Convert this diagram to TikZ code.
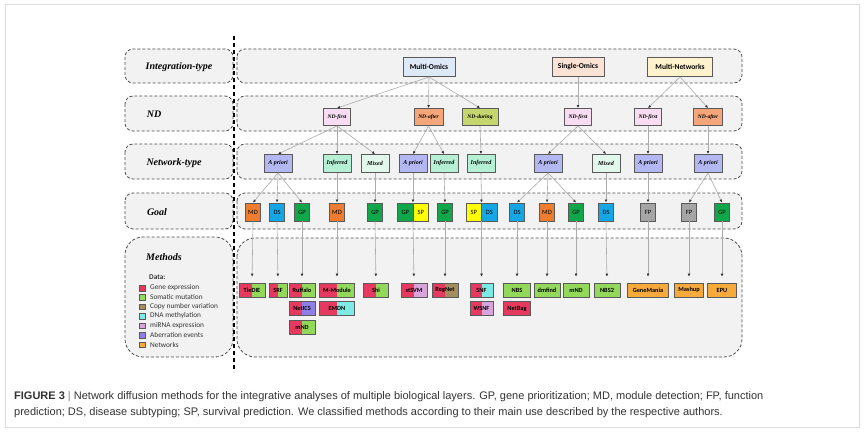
\documentclass[tikz,border=0pt]{standalone}
\usepackage{fontspec}
\setmainfont{Liberation Serif}
\setsansfont{Carlito}
\newfontfamily\capfont{Liberation Sans}
\usetikzlibrary{arrows.meta}

\definecolor{rowfill}{HTML}{F2F2F2}
\definecolor{rowline}{HTML}{4D4D4D}
\definecolor{boxline}{HTML}{5A5A5A}
\definecolor{linkgray}{HTML}{ABABAB}
\definecolor{tipgray}{HTML}{333333}
\definecolor{framegray}{HTML}{DCDCDC}
\definecolor{captext}{HTML}{333333}
\definecolor{omicsblue}{HTML}{DDE9F6}
\definecolor{singlepeach}{HTML}{FBE2D5}
\definecolor{netyellow}{HTML}{FFF2CC}
\definecolor{ndfirst}{HTML}{F8DDF2}
\definecolor{ndafter}{HTML}{F4A67A}
\definecolor{ndduring}{HTML}{C5D66E}
\definecolor{apriori}{HTML}{B3B8F2}
\definecolor{inferred}{HTML}{B5F0D5}
\definecolor{mixed}{HTML}{E2F8EC}
\definecolor{mdorange}{HTML}{EE7D31}
\definecolor{dsblue}{HTML}{15A6E6}
\definecolor{gpgreen}{HTML}{10A64A}
\definecolor{spyellow}{HTML}{FFFF00}
\definecolor{fpgray}{HTML}{A5A5A5}
\definecolor{geneexpr}{HTML}{E6395F}
\definecolor{somatic}{HTML}{92D85A}
\definecolor{cnv}{HTML}{A38C5E}
\definecolor{methyl}{HTML}{7DEAE5}
\definecolor{mirna}{HTML}{D9A3DC}
\definecolor{aberr}{HTML}{8E80E6}
\definecolor{networks}{HTML}{F6AA3C}

\tikzset{
  rowbox/.style={draw=rowline, fill=rowfill, dash pattern=on 3pt off 2pt, line width=0.8pt, rounded corners=8pt},
  rowlabel/.style={font=\fontsize{10}{11}\selectfont\bfseries\itshape},
  intbox/.style={draw=boxline, line width=0.9pt, fill=#1, minimum width=52pt, minimum height=19pt, inner sep=1pt, font=\sffamily\bfseries\fontsize{7.5}{8}\selectfont},
  ndbox/.style={draw=boxline, line width=0.9pt, fill=#1, minimum width=27pt, minimum height=17pt, inner sep=1pt, font=\fontsize{5.5}{6}\selectfont\bfseries\itshape},
  nettype/.style={draw=boxline, line width=0.9pt, fill=#1, minimum width=28pt, minimum height=18pt, inner sep=1pt, font=\fontsize{6}{7}\selectfont\bfseries\itshape},
  goalbox/.style={draw=boxline, line width=0.9pt, fill=#1, minimum width=15pt, minimum height=18pt, inner sep=0pt, font=\sffamily\fontsize{6.5}{7}\selectfont},
  goalpair/.style 2 args={draw=boxline, line width=0.9pt, minimum width=31pt, minimum height=18pt, inner sep=0pt, font=\sffamily\fontsize{6.5}{7}\selectfont,
    path picture={\fill[#1] (path picture bounding box.south west) rectangle (path picture bounding box.north);
      \fill[#2] (path picture bounding box.south) rectangle (path picture bounding box.north east);
      \draw[boxline, line width=0.9pt] (path picture bounding box.south) -- (path picture bounding box.north);}},
  method/.style 2 args={draw=boxline, line width=0.7pt, minimum height=14pt, inner sep=1pt, font=\sffamily\bfseries\fontsize{6.3}{7}\selectfont,
    path picture={\fill[#1] (path picture bounding box.south west) rectangle (path picture bounding box.north);
      \fill[#2] (path picture bounding box.south) rectangle (path picture bounding box.north east);}},
  link/.style={draw=linkgray, line width=0.6pt, -{Latex[length=3pt,width=2.8pt,color=tipgray]}},
  longlink/.style={link, shorten >=6pt},
  legsq/.style={draw=boxline, line width=0.5pt, fill=#1, minimum size=5.5pt, inner sep=0pt},
  legtext/.style={anchor=west, inner sep=0pt, text=captext, font=\sffamily\fontsize{7.3}{8}\selectfont},
  capline/.style={anchor=west, inner sep=0pt, text=captext, font=\capfont\fontsize{11}{12}\selectfont}
}

\begin{document}
\begin{tikzpicture}[x=1pt, y=-1pt]
\useasboundingbox (0,0) rectangle (866,433);
\draw[framegray, line width=0.8pt] (5,4) rectangle (859,427);

%rows: label box on the left, content box on the right
\draw[rowbox] (125,49) rectangle (233,83);
\draw[rowbox] (237,49) rectangle (742,83);
\draw[rowbox] (125,96) rectangle (233,131);
\draw[rowbox] (237,96) rectangle (742,131);
\draw[rowbox] (125,144) rectangle (233,179);
\draw[rowbox] (237,144) rectangle (742,179);
\draw[rowbox] (125,193) rectangle (233,229);
\draw[rowbox] (237,193) rectangle (742,229);
\draw[rowbox, rounded corners=18pt] (125,237) rectangle (233,357);
\draw[rowbox, rounded corners=18pt] (237,238) rectangle (742,357);

\draw[black, line width=1.6pt, dash pattern=on 4pt off 3pt] (234,36) -- (234,372);

\node[rowlabel] (lint) at (179,67) {Integration-type};
\node[rowlabel] (lnd) at (154,114) {ND};
\node[rowlabel] (lnet) at (174,163) {Network-type};
\node[rowlabel] (lgoal) at (157,212) {Goal};
\node[rowlabel] (lmeth) at (164,257) {Methods};

%legend
\node[legtext, font=\sffamily\bfseries\fontsize{7.3}{8}\selectfont] (ldata) at (149,277) {Data:};
\node[legsq=geneexpr] (sq1) at (142,288) {};
\node[legsq=somatic] (sq2) at (142,297) {};
\node[legsq=cnv] (sq3) at (142,306.5) {};
\node[legsq=methyl] (sq4) at (142,316) {};
\node[legsq=mirna] (sq5) at (142,325.5) {};
\node[legsq=aberr] (sq6) at (142,335) {};
\node[legsq=networks] (sq7) at (142,344.5) {};
\node[legtext] (t1) at (150,288) {Gene expression};
\node[legtext] (t2) at (150,297) {Somatic mutation};
\node[legtext] (t3) at (150,306.5) {Copy number variation};
\node[legtext] (t4) at (150,316) {DNA methylation};
\node[legtext] (t5) at (150,325.5) {miRNA expression};
\node[legtext] (t6) at (150,335) {Aberration events};
\node[legtext] (t7) at (150,344.5) {Networks};

%integration type
\node[intbox=omicsblue] (multiomics) at (429,67) {Multi-Omics};
\node[intbox=singlepeach] (singleomics) at (578,67) {Single-Omics};
\node[intbox=netyellow, minimum width=65pt] (multinet) at (680,67) {Multi-Networks};

%network diffusion
\node[ndbox=ndfirst] (nd1) at (337,117) {ND-first};
\node[ndbox=ndafter, minimum width=29pt] (nd2) at (428.5,117) {ND-after};
\node[ndbox=ndduring, minimum width=36pt] (nd3) at (480,117) {ND-during};
\node[ndbox=ndfirst] (nd4) at (578,117) {ND-first};
\node[ndbox=ndfirst] (nd5) at (648,117) {ND-first};
\node[ndbox=ndafter, minimum width=29pt] (nd6) at (708,117) {ND-after};

%network type
\node[nettype=apriori] (nt1) at (278,163.5) {A priori};
\node[nettype=inferred] (nt2) at (337,163.5) {Inferred};
\node[nettype=mixed] (nt3) at (375,163.5) {Mixed};
\node[nettype=apriori] (nt4) at (413,163.5) {A priori};
\node[nettype=inferred] (nt5) at (444,163.5) {Inferred};
\node[nettype=inferred] (nt6) at (481,163.5) {Inferred};
\node[nettype=apriori] (nt7) at (548,163.5) {A priori};
\node[nettype=mixed] (nt8) at (606,163.5) {Mixed};
\node[nettype=apriori] (nt9) at (648,163.5) {A priori};
\node[nettype=apriori] (nt10) at (708,163.5) {A priori};

%goal
\node[goalbox=mdorange] (g1) at (253,212) {MD};
\node[goalbox=dsblue] (g2) at (277,212) {DS};
\node[goalbox=gpgreen] (g3) at (302,212) {GP};
\node[goalbox=mdorange] (g4) at (337,212) {MD};
\node[goalbox=gpgreen] (g5) at (375,212) {GP};
\node[goalpair={gpgreen}{spyellow}] (g6) at (413,212) {\makebox[15.5pt]{GP}\makebox[15.5pt]{SP}};
\node[goalbox=gpgreen] (g7) at (445,212) {GP};
\node[goalpair={spyellow}{dsblue}] (g8) at (481.5,212) {\makebox[15.5pt]{SP}\makebox[15.5pt]{DS}};
\node[goalbox=dsblue] (g9) at (517,212) {DS};
\node[goalbox=mdorange] (g10) at (547,212) {MD};
\node[goalbox=gpgreen] (g11) at (576,212) {GP};
\node[goalbox=dsblue] (g12) at (606,212) {DS};
\node[goalbox=fpgray] (g13) at (648,212) {FP};
\node[goalbox=fpgray] (g14) at (689,212) {FP};
\node[goalbox=gpgreen] (g15) at (722,212) {GP};

%methods
\node[method={geneexpr}{somatic}, minimum width=26pt] (m1) at (252,290) {TieDIE};
\node[method={geneexpr}{somatic}, minimum width=18pt] (m2) at (278,290) {SRF};
\node[method={geneexpr}{somatic}, minimum width=26pt] (m3) at (302,290) {Ruffalo};
\node[method={geneexpr}{somatic}, minimum width=35pt] (m4) at (337,290) {M-Module};
\node[method={geneexpr}{somatic}, minimum width=25pt] (m5) at (376,290) {Shi};
\node[method={geneexpr}{aberr}, minimum width=26pt] (m6) at (302,308.5) {NetICS};
\node[method={geneexpr}{methyl}, minimum width=35pt] (m7) at (337,308.5) {EMDN};
\node[method={geneexpr}{somatic}, minimum width=26pt] (m8) at (302,327) {mND};
\node[method={geneexpr}{mirna}, minimum width=26pt] (m9) at (414,290) {stSVM};
\node[method={geneexpr}{cnv}, minimum width=26pt] (m10) at (445,290) {RegNet};
\node[method={geneexpr}{methyl}, minimum width=23pt] (m11) at (481.5,290) {SNF};
\node[method={geneexpr}{mirna}, minimum width=23pt] (m12) at (481.5,308.5) {WSNF};
\node[method={somatic}{somatic}, minimum width=27pt] (m13) at (517,290) {NBS};
\node[method={geneexpr}{geneexpr}, minimum width=27pt] (m14) at (517,308.5) {NetBag};
\node[method={somatic}{somatic}, minimum width=26pt] (m15) at (547,290) {dmfind};
\node[method={somatic}{somatic}, minimum width=26pt] (m16) at (576,290) {mND};
\node[method={somatic}{somatic}, minimum width=26pt] (m17) at (607,290) {NBS2};
\node[method={networks}{networks}, minimum width=41pt] (m18) at (648,290) {GeneMania};
\node[method={networks}{networks}, minimum width=29pt] (m19) at (689,290) {Mashup};
\node[method={networks}{networks}, minimum width=29pt] (m20) at (722,290) {EPU};

%integration type -> ND
\draw[link] (multiomics.south) -- (nd1.north);
\draw[link] (multiomics.south) -- (nd2.north);
\draw[link] (multiomics.south) -- (nd3.north);
\draw[link] (singleomics.south) -- (nd4.north);
\draw[link] (multinet.south) -- (nd5.north);
\draw[link] (multinet.south) -- (nd6.north);

%ND -> network type
\draw[link] (nd1.south) -- (nt1.north);
\draw[link] (nd1.south) -- (nt2.north);
\draw[link] (nd1.south) -- (nt3.north);
\draw[link] (nd2.south) -- (nt4.north);
\draw[link] (nd2.south) -- (nt5.north);
\draw[link] (nd3.south) -- (nt6.north);
\draw[link] (nd4.south) -- (nt7.north);
\draw[link] (nd4.south) -- (nt8.north);
\draw[link] (nd5.south) -- (nt9.north);
\draw[link] (nd6.south) -- (nt10.north);

%network type -> goal
\draw[link] (nt1.south) -- (g1.north);
\draw[link] (nt1.south) -- (g2.north);
\draw[link] (nt1.south) -- (g3.north);
\draw[link] (nt2.south) -- (g4.north);
\draw[link] (nt3.south) -- (g5.north);
\draw[link] (nt4.south) -- (g6.north);
\draw[link] (nt5.south) -- (g7.north);
\draw[link] (nt6.south) -- (g8.north);
\draw[link] (nt7.south) -- (g9.north);
\draw[link] (nt7.south) -- (g10.north);
\draw[link] (nt7.south) -- (g11.north);
\draw[link] (nt8.south) -- (g12.north);
\draw[link] (nt9.south) -- (g13.north);
\draw[link] (nt10.south) -- (g14.north);
\draw[link] (nt10.south) -- (g15.north);

%goal -> methods
\draw[longlink] (g1.south) -- (m1.north);
\draw[longlink] (g2.south) -- (m2.north);
\draw[longlink] (g3.south) -- (m3.north);
\draw[longlink] (g4.south) -- (m4.north);
\draw[longlink] (g5.south) -- (m5.north);
\draw[longlink] (g6.south) -- (m9.north);
\draw[longlink] (g7.south) -- (m10.north);
\draw[longlink] (g8.south) -- (m11.north);
\draw[longlink] (g9.south) -- (m13.north);
\draw[longlink] (g10.south) -- (m15.north);
\draw[longlink] (g11.south) -- (m16.north);
\draw[longlink] (g12.south) -- (m17.north);
\draw[longlink] (g13.south) -- (m18.north);
\draw[longlink] (g14.south) -- (m19.north);
\draw[longlink] (g15.south) -- (m20.north);

%caption
\node[capline] (cap1) at (14,397) {{\bfseries FIGURE 3} \textcolor{framegray!60!black}{|} Network diffusion methods for the integrative analyses of multiple biological layers. GP, gene prioritization; MD, module detection; FP, function};
\node[capline] (cap2) at (14,413) {prediction; DS, disease subtyping; SP, survival prediction. We classified methods according to their main use described by the respective authors.};
\end{tikzpicture}
\end{document}
